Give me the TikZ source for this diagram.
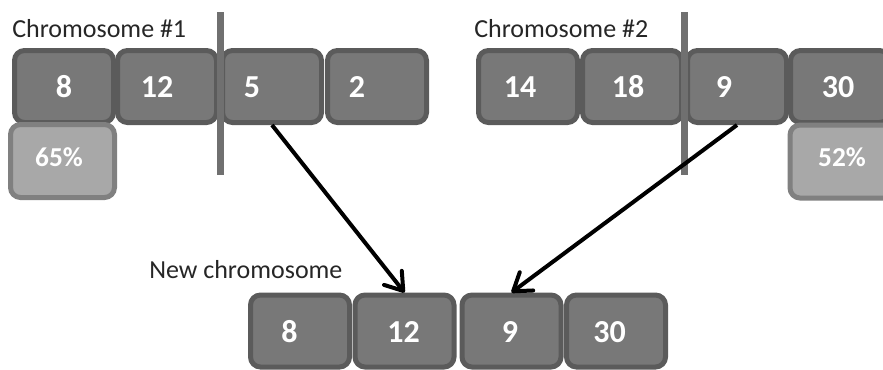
\documentclass[tikz,border=0pt]{standalone}
\usepackage{fontspec}
\setmainfont{Carlito}
\usetikzlibrary{arrows.meta}

\definecolor{genefill}{HTML}{787878}
\definecolor{geneline}{HTML}{5B5B5B}
\definecolor{fitfill}{HTML}{A8A8A8}
\definecolor{fitline}{HTML}{808080}
\definecolor{cutline}{HTML}{707070}

\begin{document}
\begin{tikzpicture}[x=0.75pt,y=-0.75pt,
  gene/.style={draw=geneline,fill=genefill,line width=3.75pt,rounded corners=7.5pt,
    minimum width=74.25pt,minimum height=54pt,inner sep=0pt},
  fitbox/.style={gene,draw=fitline,fill=fitfill,minimum width=78pt,minimum height=54.75pt},
  num/.style={text=white,font=\bfseries\fontsize{24}{24}\selectfont,inner sep=0pt},
  pct/.style={text=white,font=\bfseries\fontsize{20.5}{20.5}\selectfont,inner sep=0pt},
  chromname/.style={anchor=base west,text=black!85,font=\fontsize{19.5}{19.5}\selectfont,inner sep=0pt},
  cut/.style={draw=cutline,line width=5.25pt},
  pass/.style={line width=3pt,-{Straight Barb[length=12.5pt,width=17pt,round]}}]
\useasboundingbox (0,0) rectangle (883,369);

\node[chromname] (name1) at (12,37) {Chromosome \#1};
\node[chromname] (name2) at (474,37) {Chromosome \#2};
\node[chromname] (name3) at (149,278) {New chromosome};

% parent 1
\foreach \i/\x/\tx/\v in {1/64/64/8, 2/167/157/12, 3/272/252/5, 4/377/357/2}{
  \node[gene] (a\i) at (\x,86.5) {};
  \node[num] (a\i-v) at (\tx,87) {\v};
}
\node[fitbox] (fa) at (62.5,161) {};
\node[pct] (fa-v) at (59,157) {65\%};

% parent 2
\foreach \i/\x/\tx/\v in {1/528/520/14, 2/632/628/18, 3/737/724/9, 4/840/838/30}{
  \node[gene] (b\i) at (\x,86.5) {};
  \node[num] (b\i-v) at (\tx,87) {\v};
}
\node[fitbox] (fb) at (842,161.5) {};
\node[pct] (fb-v) at (842,157) {52\%};

% crossover points
\draw[cut] (220,12) -- (220,175);
\draw[cut] (684,12) -- (684,175);

% child
\foreach \i/\x/\tx/\v in {1/300/289.5/8, 2/404.5/403.5/12, 3/511.5/510/9, 4/616/609.5/30}{
  \node[gene] (n\i) at (\x,331) {};
  \node[num] (n\i-v) at (\tx,332) {\v};
}

\draw[pass] (a3.south) -- (n2.north);
\draw[pass] (b3.south) -- (n3.north);
\end{tikzpicture}
\end{document}
